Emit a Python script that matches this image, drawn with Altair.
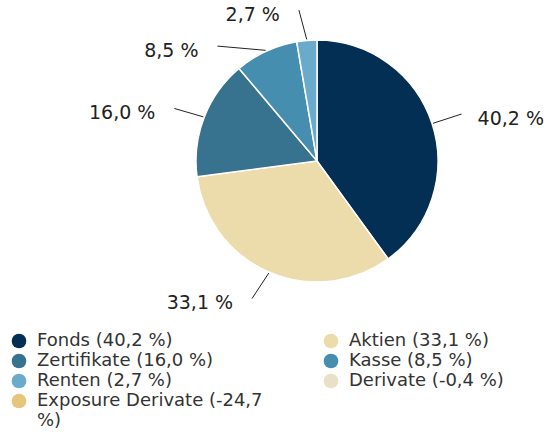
import math
import altair as alt
import pandas as pd

# ---- data ----
categories = ["Fonds", "Aktien", "Zertifikate", "Kasse", "Renten", "Derivate", "Exposure Derivate"]
values = [40.2, 33.1, 16.0, 8.5, 2.7, -0.4, -24.7]
colors = ["#032f55", "#ecdcab", "#37738f", "#458eb0", "#6aabcc", "#e9e0c8", "#e7c67b"]
# leader-line bend (degrees) used to keep the small-slice labels apart
label_shift_deg = [0, 2, -1, -16, -2]

# ---- layout constants ----
W, H = 553, 432
CX, CY = 317, 161
R = 121
R_IN, R_OUT = 122, 152
FONT = "DejaVu Sans"


def de(v):
    return f"{v:.1f}".replace(".", ",")


legend_labels = [f"{c} ({de(v)} %)" for c, v in zip(categories, values)]

pos = [(lab, v) for lab, v in zip(legend_labels, values) if v > 0]
total = sum(v for _, v in pos)
rows = []
cum = 0.0
for i, (lab, v) in enumerate(pos):
    mid = (cum + v / 2) / total * 360
    cum += v
    rows.append(dict(cat=lab, value=v, order=i, mid=mid,
                     shift=label_shift_deg[i], text=f"{de(v)} %"))
df = pd.DataFrame(rows)

color_scale = alt.Scale(domain=legend_labels, range=colors)

base = alt.Chart(df)

pie = base.mark_arc(stroke="white", strokeWidth=1.5, outerRadius=R).encode(
    theta=alt.Theta("value:Q", stack=True),
    color=alt.Color("cat:N", scale=color_scale, title=None,
                    sort=legend_labels,
                    legend=alt.Legend(
                        orient="none", legendX=10, legendY=332, columns=2,
                        direction="horizontal",
                        symbolType="circle", symbolSize=215, symbolStrokeWidth=0,
                        labelFont=FONT, labelFontSize=18, labelColor="#333333",
                        labelOffset=9, rowPadding=2, columnPadding=59,
                        labelLimit=400,
                        labelExpr="length(datum.label) > 25 ? [slice(datum.label, 0, lastindexof(datum.label, ' ')), slice(datum.label, lastindexof(datum.label, ' ') + 1)] : datum.label",
                    )),
    order=alt.Order("order:Q"),
    x=alt.value(CX),
    y=alt.value(CY),
)

geo = base.transform_calculate(
    a1="datum.mid * PI / 180",
    a2="(datum.mid + datum.shift) * PI / 180",
).transform_calculate(
    x1=f"{CX} + {R_IN} * sin(datum.a1)",
    y1=f"{CY} - {R_IN} * cos(datum.a1)",
    x2=f"{CX} + {R_OUT} * sin(datum.a2)",
    y2=f"{CY} - {R_OUT} * cos(datum.a2)",
)

leader = geo.mark_rule(color="#222222", strokeWidth=1).encode(
    x=alt.X("x1:Q", scale=None, axis=None),
    y=alt.Y("y1:Q", scale=None, axis=None),
    x2="x2:Q",
    y2="y2:Q",
)

lab_right = geo.transform_filter("sin(datum.a2) >= 0").transform_calculate(
    lx="datum.x2 + 16", ly="datum.y2 + 5"
).mark_text(align="left", baseline="middle", font=FONT, fontSize=19, color="#222222").encode(
    x=alt.X("lx:Q", scale=None, axis=None),
    y=alt.Y("ly:Q", scale=None, axis=None),
    text="text:N",
)

lab_left = geo.transform_filter("sin(datum.a2) < 0").transform_calculate(
    lx="datum.x2 - 19", ly="datum.y2 + 5"
).mark_text(align="right", baseline="middle", font=FONT, fontSize=19, color="#222222").encode(
    x=alt.X("lx:Q", scale=None, axis=None),
    y=alt.Y("ly:Q", scale=None, axis=None),
    text="text:N",
)

chart = alt.layer(pie, leader, lab_right, lab_left).properties(
    width=W, height=H, padding=0,
    autosize=alt.AutoSizeParams(type="none"),
    background="white",
).configure_view(stroke=None)

chart.save("out.html", embed_options={"renderer": "svg", "actions": False})
